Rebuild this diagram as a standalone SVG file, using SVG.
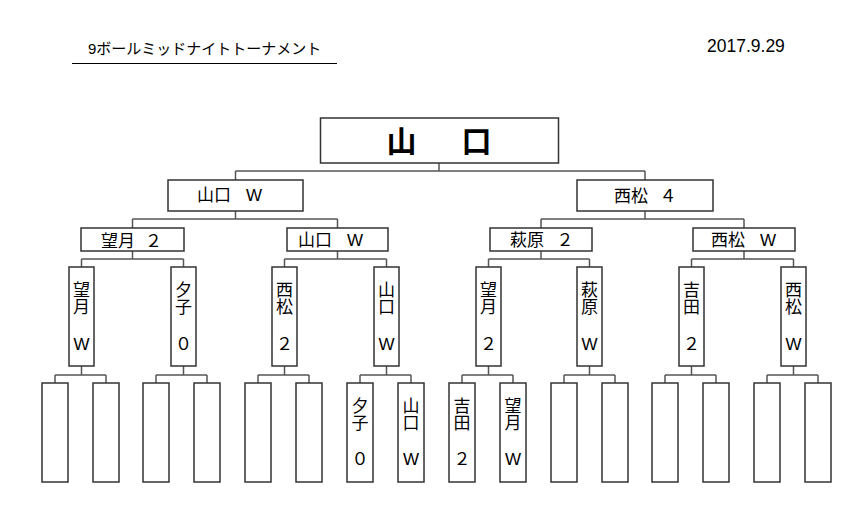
<svg xmlns="http://www.w3.org/2000/svg" width="860" height="529" viewBox="0 0 860 529">
<style>
.bx{fill:#fff;stroke:#333;stroke-width:1.5}
.cn line{stroke:#555;stroke-width:1.5}
text{font-family:"Liberation Sans","Noto Sans CJK JP",sans-serif;fill:#000}
.lb{font-size:17px}
.v{font-size:17px;text-anchor:middle}
.vt{font-family:"Noto Sans CJK JP",sans-serif;font-size:17px;writing-mode:vertical-rl;text-orientation:upright}
.top{font-family:"Noto Sans CJK JP","Liberation Sans",sans-serif;font-size:30px;font-weight:bold}
</style>
<rect width="860" height="529" fill="#fff"/>
<g id="title">
<text x="88" y="54" font-size="15">9ボールミッドナイトトーナメント</text>
<line x1="72" y1="63.5" x2="337" y2="63.5" stroke="#000" stroke-width="1"/>
</g>
<text id="date" x="707" y="52" font-size="17.5">2017.9.29</text>

<g class="cn" id="connectors">
<line x1="439" y1="163" x2="439" y2="171"/>
<line x1="235.5" y1="171" x2="645" y2="171"/>
<line x1="235.5" y1="171" x2="235.5" y2="180"/>
<line x1="645" y1="171" x2="645" y2="180"/>

<line x1="235.5" y1="211" x2="235.5" y2="219"/>
<line x1="132.5" y1="219" x2="337.5" y2="219"/>
<line x1="132.5" y1="219" x2="132.5" y2="228"/>
<line x1="337.5" y1="219" x2="337.5" y2="228"/>
<line x1="645" y1="211" x2="645" y2="219"/>
<line x1="541" y1="219" x2="744" y2="219"/>
<line x1="541" y1="219" x2="541" y2="228"/>
<line x1="744" y1="219" x2="744" y2="228"/>

<line x1="132.5" y1="251" x2="132.5" y2="259"/>
<line x1="81.5" y1="259" x2="183.5" y2="259"/>
<line x1="81.5" y1="259" x2="81.5" y2="267"/>
<line x1="183.5" y1="259" x2="183.5" y2="267"/>
<line x1="337.5" y1="251" x2="337.5" y2="259"/>
<line x1="284.5" y1="259" x2="386.5" y2="259"/>
<line x1="284.5" y1="259" x2="284.5" y2="267"/>
<line x1="386.5" y1="259" x2="386.5" y2="267"/>
<line x1="541" y1="251" x2="541" y2="259"/>
<line x1="488.5" y1="259" x2="589.5" y2="259"/>
<line x1="488.5" y1="259" x2="488.5" y2="267"/>
<line x1="589.5" y1="259" x2="589.5" y2="267"/>
<line x1="744" y1="251" x2="744" y2="259"/>
<line x1="691.5" y1="259" x2="793.5" y2="259"/>
<line x1="691.5" y1="259" x2="691.5" y2="267"/>
<line x1="793.5" y1="259" x2="793.5" y2="267"/>

<line x1="81.5" y1="366" x2="81.5" y2="375"/>
<line x1="55" y1="375" x2="106" y2="375"/>
<line x1="55" y1="375" x2="55" y2="383"/>
<line x1="106" y1="375" x2="106" y2="383"/>
<line x1="183.5" y1="366" x2="183.5" y2="375"/>
<line x1="156" y1="375" x2="207" y2="375"/>
<line x1="156" y1="375" x2="156" y2="383"/>
<line x1="207" y1="375" x2="207" y2="383"/>
<line x1="284.5" y1="366" x2="284.5" y2="375"/>
<line x1="258" y1="375" x2="309" y2="375"/>
<line x1="258" y1="375" x2="258" y2="383"/>
<line x1="309" y1="375" x2="309" y2="383"/>
<line x1="386.5" y1="366" x2="386.5" y2="375"/>
<line x1="360" y1="375" x2="411" y2="375"/>
<line x1="360" y1="375" x2="360" y2="383"/>
<line x1="411" y1="375" x2="411" y2="383"/>
<line x1="488.5" y1="366" x2="488.5" y2="375"/>
<line x1="462" y1="375" x2="513" y2="375"/>
<line x1="462" y1="375" x2="462" y2="383"/>
<line x1="513" y1="375" x2="513" y2="383"/>
<line x1="589.5" y1="366" x2="589.5" y2="375"/>
<line x1="564" y1="375" x2="615" y2="375"/>
<line x1="564" y1="375" x2="564" y2="383"/>
<line x1="615" y1="375" x2="615" y2="383"/>
<line x1="691.5" y1="366" x2="691.5" y2="375"/>
<line x1="665" y1="375" x2="716" y2="375"/>
<line x1="665" y1="375" x2="665" y2="383"/>
<line x1="716" y1="375" x2="716" y2="383"/>
<line x1="793.5" y1="366" x2="793.5" y2="375"/>
<line x1="767" y1="375" x2="818" y2="375"/>
<line x1="767" y1="375" x2="767" y2="383"/>
<line x1="818" y1="375" x2="818" y2="383"/>
</g>

<g id="final">
<rect class="bx" x="320.5" y="118" width="238" height="45"/>
<text class="top" x="386.5" y="151.5">山<tspan font-size="45">　</tspan>口</text>
</g>

<g id="sf-left">
<rect class="bx" x="168" y="180" width="135" height="31"/>
<text class="lb" x="197" y="201">山口<tspan font-size="15">　</tspan>W</text>
</g>
<g id="sf-right">
<rect class="bx" x="577" y="180" width="136" height="31"/>
<text class="lb" x="614" y="202">西松<tspan font-size="11.5">　</tspan>４</text>
</g>

<g id="qf1">
<rect class="bx" x="81" y="228" width="103" height="23"/>
<text class="lb" x="101" y="247">望月<tspan font-size="10">　</tspan>２</text>
</g>
<g id="qf2">
<rect class="bx" x="287" y="228" width="101" height="23"/>
<text class="lb" x="298" y="246">山口<tspan font-size="15">　</tspan>W</text>
</g>
<g id="qf3">
<rect class="bx" x="490" y="228" width="102" height="23"/>
<text class="lb" x="510" y="246">萩原<tspan font-size="12.5">　</tspan>２</text>
</g>
<g id="qf4">
<rect class="bx" x="693" y="228" width="102" height="23"/>
<text class="lb" x="711" y="246">西松<tspan font-size="15">　</tspan>W</text>
</g>

<g id="r16-1"><rect class="bx" x="69" y="267" width="25" height="99"/>
<text class="vt" x="81.5" y="281.5">望月</text><text class="v" x="81.5" y="350">W</text></g>
<g id="r16-2"><rect class="bx" x="171" y="267" width="25" height="99"/>
<text class="vt" x="183.5" y="281.5">夕子</text><text class="v" x="183.5" y="350">０</text></g>
<g id="r16-3"><rect class="bx" x="272" y="267" width="25" height="99"/>
<text class="vt" x="284.5" y="281.5">西松</text><text class="v" x="284.5" y="350">２</text></g>
<g id="r16-4"><rect class="bx" x="374" y="267" width="25" height="99"/>
<text class="vt" x="386.5" y="281.5">山口</text><text class="v" x="386.5" y="350">W</text></g>
<g id="r16-5"><rect class="bx" x="476" y="267" width="25" height="99"/>
<text class="vt" x="488.5" y="281.5">望月</text><text class="v" x="488.5" y="350">２</text></g>
<g id="r16-6"><rect class="bx" x="577" y="267" width="25" height="99"/>
<text class="vt" x="589.5" y="281.5">萩原</text><text class="v" x="589.5" y="350">W</text></g>
<g id="r16-7"><rect class="bx" x="679" y="267" width="25" height="99"/>
<text class="vt" x="691.5" y="281.5">吉田</text><text class="v" x="691.5" y="350">２</text></g>
<g id="r16-8"><rect class="bx" x="781" y="267" width="25" height="99"/>
<text class="vt" x="793.5" y="281.5">西松</text><text class="v" x="793.5" y="350">W</text></g>

<g id="r32-1"><rect class="bx" x="42" y="383" width="26" height="99"/></g>
<g id="r32-2"><rect class="bx" x="93" y="383" width="26" height="99"/></g>
<g id="r32-3"><rect class="bx" x="143" y="383" width="26" height="99"/></g>
<g id="r32-4"><rect class="bx" x="194" y="383" width="26" height="99"/></g>
<g id="r32-5"><rect class="bx" x="245" y="383" width="26" height="99"/></g>
<g id="r32-6"><rect class="bx" x="296" y="383" width="26" height="99"/></g>
<g id="r32-7"><rect class="bx" x="347" y="383" width="26" height="99"/>
<text class="vt" x="360" y="397">夕子</text><text class="v" x="360" y="465">０</text></g>
<g id="r32-8"><rect class="bx" x="398" y="383" width="26" height="99"/>
<text class="vt" x="411" y="397">山口</text><text class="v" x="411" y="465">W</text></g>
<g id="r32-9"><rect class="bx" x="449" y="383" width="26" height="99"/>
<text class="vt" x="462" y="397">吉田</text><text class="v" x="462" y="465">２</text></g>
<g id="r32-10"><rect class="bx" x="500" y="383" width="26" height="99"/>
<text class="vt" x="513" y="397">望月</text><text class="v" x="513" y="465">W</text></g>
<g id="r32-11"><rect class="bx" x="551" y="383" width="26" height="99"/></g>
<g id="r32-12"><rect class="bx" x="602" y="383" width="26" height="99"/></g>
<g id="r32-13"><rect class="bx" x="652" y="383" width="26" height="99"/></g>
<g id="r32-14"><rect class="bx" x="703" y="383" width="26" height="99"/></g>
<g id="r32-15"><rect class="bx" x="754" y="383" width="26" height="99"/></g>
<g id="r32-16"><rect class="bx" x="805" y="383" width="26" height="99"/></g>
</svg>
